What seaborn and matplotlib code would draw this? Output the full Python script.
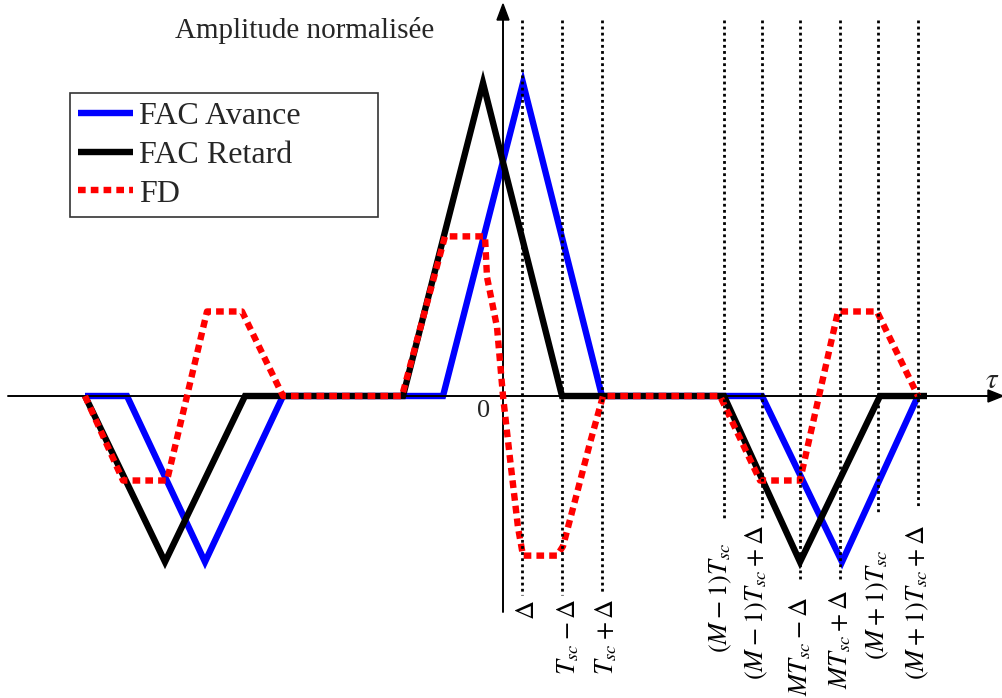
import matplotlib
matplotlib.use("Agg")
import matplotlib.pyplot as plt
import numpy as np
import pandas as pd
import seaborn as sns
from matplotlib.patches import Rectangle, Polygon

# ---------------- data (time in units of Delta, amplitude normalised) ----------------
t_avance = [-20.9, -18.8, -14.9, -11.0, -3.0, 1.0, 4.95, 12.95, 16.95, 20.75]
a_avance = [0.0, 0.0, -0.53, 0.0, 0.0, 1.0, 0.0, 0.0, -0.53, 0.0]

t_retard = [-20.9, -16.9, -12.9, -5.0, -1.0, 2.95, 11.05, 14.85, 18.85, 21.2]
a_retard = [0.0, -0.53, 0.0, 0.0, 1.0, 0.0, 0.0, -0.53, 0.0, 0.0]

t_fd = [-20.9, -19.0, -16.8, -14.8, -13.05, -11.0, -5.05, -2.9, -0.9, -0.8, -0.3, 0.0,
        0.35, 0.75, 1.0, 2.7, 3.0, 3.7, 4.35, 5.0, 10.85, 12.85, 14.85, 16.75, 18.7, 20.75]
a_fd = [0.0, -0.27, -0.27, 0.27, 0.27, 0.0, 0.0, 0.51, 0.51, 0.38, 0.22, 0.0,
        -0.2, -0.42, -0.51, -0.51, -0.48, -0.31, -0.15, 0.0, 0.0, -0.27, -0.27, 0.27, 0.27, 0.0]

series_labels = ["FAC Avance", "FAC Retard", "FD"]

marker_t = [0.95, 2.95, 4.95, 11.05, 12.95, 14.85, 16.85, 18.75, 20.75]
marker_labels = [r"$\Delta$", r"$T_{sc}-\Delta$", r"$T_{sc}+\Delta$",
                 r"$(M-1)T_{sc}$", r"$(M-1)T_{sc}+\Delta$",
                 r"$MT_{sc}-\Delta$", r"$MT_{sc}+\Delta$",
                 r"$(M+1)T_{sc}$", r"$(M+1)T_{sc}+\Delta$"]

y_title = "Amplitude normalisée"
x_title = r"$\tau$"
origin_label = "0"

# ---------------- layout helpers (pixel geometry of the figure) ----------------
W, H = 1003, 698
X0, Y0 = 503, 396      # origin pixel
SX, SY = 20.0, 313.0   # pixels per unit

def px_x(p):
    return (p - X0) / SX

def px_y(p):
    return (Y0 - p) / SY

sns.set_theme(style="white")
plt.rcParams["font.family"] = ["Liberation Serif", "DejaVu Serif"]
plt.rcParams["mathtext.fontset"] = "stix"

fig = plt.figure(figsize=(W / 100, H / 100), dpi=100)
ax = fig.add_axes([0, 0, 1, 1])
ax.set_xlim(px_x(0), px_x(W))
ax.set_ylim(px_y(H), px_y(0))
ax.axis("off")

df_a = pd.DataFrame({"t": t_avance, "a": a_avance})
df_r = pd.DataFrame({"t": t_retard, "a": a_retard})
df_f = pd.DataFrame({"t": t_fd, "a": a_fd})

sns.lineplot(data=df_a, x="t", y="a", sort=False, estimator=None, ax=ax,
             color="#0000ff", linewidth=4.6, label=series_labels[0], zorder=2,
             solid_joinstyle="miter", solid_capstyle="butt")
sns.lineplot(data=df_r, x="t", y="a", sort=False, estimator=None, ax=ax,
             color="black", linewidth=4.6, label=series_labels[1], zorder=2.2,
             solid_joinstyle="miter", solid_capstyle="butt")
sns.lineplot(data=df_f, x="t", y="a", sort=False, estimator=None, ax=ax,
             color="#ff0000", linewidth=4.6, label=series_labels[2], zorder=3,
             linestyle=(0, (1.2, 0.8)), dash_capstyle="butt")

# axes (horizontal and vertical with arrows)
ax.plot([px_x(8), px_x(990)], [0, 0], color="black", lw=1.4, zorder=2.5)
ax.add_patch(Polygon([[px_x(1003), 0], [px_x(988), px_y(390)], [px_x(988), px_y(402)]],
                     closed=True, color="black", zorder=2.5))
ax.plot([0, 0], [px_y(612), px_y(18)], color="black", lw=1.4, zorder=2.5)
ax.add_patch(Polygon([[0, px_y(4)], [px_x(497), px_y(20)], [px_x(509), px_y(20)]],
                     closed=True, color="black", zorder=2.5))

# dotted reference lines and their labels
line_bottoms = [595, 595, 593, 518, 520, 582, 580, 513, 507]
label_tops = [600, 598, 598, 543, 525, 597, 590, 550, 525]
label_dx = [6, 6, 4, -3, -5, 0, 0, 0, 0]
for tx, lab, lb, lt, dx in zip(marker_t, marker_labels, line_bottoms, label_tops, label_dx):
    ax.plot([tx, tx], [px_y(20), px_y(lb)], color="black", lw=2.0,
            linestyle=(0, (1, 1.2)), zorder=4)
    ax.text(tx + dx / SX, px_y(lt), lab, rotation=90, ha="center", va="top",
            fontsize=19, color="black")

ax.text(px_x(484), px_y(411), origin_label, ha="center", va="center", fontsize=19)
ax.text(px_x(985), px_y(381), x_title, ha="left", va="center", fontsize=21)
ax.text(px_x(175), px_y(38), y_title, ha="left", va="baseline", fontsize=21)

# legend
leg = ax.legend(loc="upper left", bbox_to_anchor=(72 / W, 1 - 95 / H), frameon=False,
                fontsize=23, handlelength=1.7, handletextpad=0.2, labelspacing=0.3,
                borderpad=0.2, borderaxespad=0)
for h in leg.get_lines():
    h.set_linewidth(4.6)
fig.patches.append(Rectangle((70 / W, 1 - 217 / H), 308 / W, 124 / H,
                             transform=fig.transFigure, fill=False,
                             edgecolor="#333333", lw=1.2, zorder=5))

fig.savefig("out.png", dpi=100)
